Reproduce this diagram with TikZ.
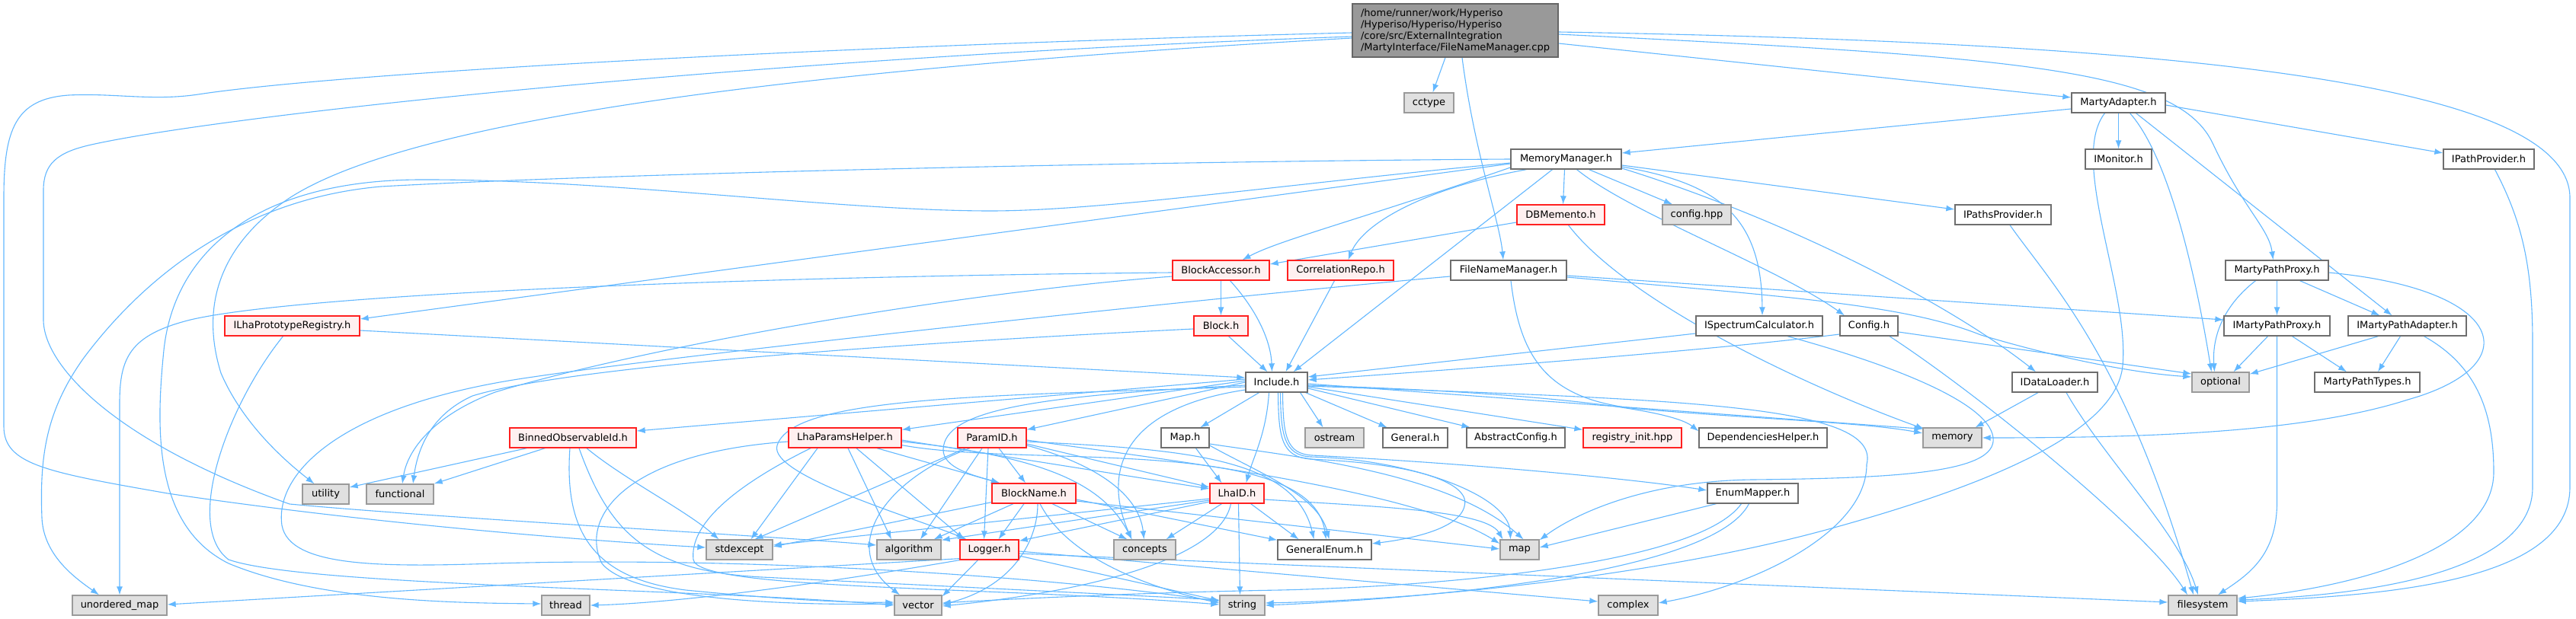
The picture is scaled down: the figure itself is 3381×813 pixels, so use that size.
\documentclass[tikz,border=0pt]{standalone}
\usepackage{fontspec}
\newfontfamily\dgfam{DejaVu Sans}
\usetikzlibrary{arrows.meta,calc}
\definecolor{edgec}{HTML}{63B8FF}
\definecolor{cwb}{HTML}{6E6E6E}
\definecolor{cgb}{HTML}{9A9A9A}
\definecolor{cgf}{HTML}{E0E0E0}
\definecolor{crb}{HTML}{FF2020}
\definecolor{crf}{HTML}{FFF0F0}
\definecolor{cmf}{HTML}{999999}
\definecolor{cmb}{HTML}{666666}
\pgfdeclarelayer{bg}
\pgfsetlayers{bg,main}
\tikzset{
 nd/.style={draw, line width=1.3pt, inner sep=0pt, minimum height=26pt, font=\dgfam\fontsize{13}{15}\selectfont, text=black},
 wn/.style={nd, draw=cwb, fill=white},
 gn/.style={nd, draw=cgb, fill=cgf},
 rn/.style={nd, draw=crb, fill=crf},
 e/.style={draw=edgec, line width=1.1pt, -{Latex[length=11pt,width=8pt]}}
}
\begin{document}
\begin{tikzpicture}[x=1pt,y=-1pt]
\useasboundingbox (0,0) rectangle (3381,813);
% ---------- nodes ----------
\node[nd, draw=cmb, fill=cmf, minimum width=270pt, minimum height=70pt, align=left] (src) at (1910,40) {/home/runner/work/Hyperiso\\/Hyperiso/Hyperiso/Hyperiso\\/core/src/ExternalIntegration\\/MartyInterface/FileNameManager.cpp};
\node[gn, minimum width=65pt] (cctype) at (1875.5,135) {cctype};
\node[wn, minimum width=123pt] (MA) at (2780.5,135) {MartyAdapter.h};
\node[wn, minimum width=145pt] (MM) at (2055.5,209) {MemoryManager.h};
\node[wn, minimum width=87pt] (IMon) at (2780.5,209) {IMonitor.h};
\node[wn, minimum width=119pt] (IPP) at (3266.5,209) {IPathProvider.h};
\node[rn, minimum width=115pt] (DBM) at (2048.5,282) {DBMemento.h};
\node[gn, minimum width=90pt] (cfg) at (2227,282) {config.hpp};
\node[wn, minimum width=126pt] (IPsP) at (2629,282) {IPathsProvider.h};
\node[rn, minimum width=127pt] (BA) at (1602.5,355) {BlockAccessor.h};
\node[rn, minimum width=139pt] (CR) at (1759.5,355) {CorrelationRepo.h};
\node[wn, minimum width=152pt] (FNM) at (1980,355) {FileNameManager.h};
\node[wn, minimum width=135pt] (MPP) at (2988.5,355) {MartyPathProxy.h};
\node[rn, minimum width=177pt] (ILPR) at (383.5,428) {ILhaPrototypeRegistry.h};
\node[rn, minimum width=71pt] (Blk) at (1602.5,428) {Block.h};
\node[wn, minimum width=166pt] (ISC) at (2309,428) {ISpectrumCalculator.h};
\node[wn, minimum width=76pt] (Cfg) at (2453,428) {Config.h};
\node[wn, minimum width=139pt] (IMPP) at (2988.5,428) {IMartyPathProxy.h};
\node[wn, minimum width=155pt] (IMPA) at (3159.5,428) {IMartyPathAdapter.h};
\node[wn, minimum width=81pt] (Inc) at (1675.5,502) {Include.h};
\node[wn, minimum width=112pt] (IDL) at (2697,502) {IDataLoader.h};
\node[gn, minimum width=75pt] (opt) at (2914.5,502) {optional};
\node[wn, minimum width=138pt] (MPT) at (3107,502) {MartyPathTypes.h};
\node[rn, minimum width=166pt] (BOI) at (752,575) {BinnedObservableId.h};
\node[rn, minimum width=148pt] (LPH) at (1109,575) {LhaParamsHelper.h};
\node[rn, minimum width=90pt] (PID) at (1302,575) {ParamID.h};
\node[wn, minimum width=63pt] (MapH) at (1555.5,575) {Map.h};
\node[gn, minimum width=77pt] (ostr) at (1751.5,575) {ostream};
\node[wn, minimum width=85pt] (Gen) at (1857.5,575) {General.h};
\node[wn, minimum width=129pt] (AbsC) at (1989.5,575) {AbstractConfig.h};
\node[rn, minimum width=129pt] (reg) at (2142.5,575) {registry\_init.hpp};
\node[wn, minimum width=168pt] (Dep) at (2314,575) {DependenciesHelper.h};
\node[gn, minimum width=77pt] (mem) at (2562.5,575) {memory};
\node[gn, minimum width=61pt] (util) at (427.5,649) {utility};
\node[gn, minimum width=88pt] (func) at (525,649) {functional};
\node[rn, minimum width=110pt] (BN) at (1357,648) {BlockName.h};
\node[rn, minimum width=71pt] (LID) at (1623.5,648) {LhaID.h};
\node[wn, minimum width=119pt] (EM) at (2300.5,648) {EnumMapper.h};
\node[gn, minimum width=87pt] (stde) at (970.5,722) {stdexcept};
\node[gn, minimum width=84pt] (alg) at (1193,722) {algorithm};
\node[rn, minimum width=77pt] (Log) at (1298.5,722) {Logger.h};
\node[gn, minimum width=81pt] (conc) at (1502.5,722) {concepts};
\node[wn, minimum width=123pt] (GE) at (1738.5,722) {GeneralEnum.h};
\node[gn, minimum width=51pt] (mapn) at (1994.5,722) {map};
\node[gn, minimum width=124pt] (um) at (157,795) {unordered\_map};
\node[gn, minimum width=63pt] (thr) at (742.5,795) {thread};
\node[gn, minimum width=62pt] (vec) at (1205,795) {vector};
\node[gn, minimum width=59pt] (str) at (1630.5,795) {string};
\node[gn, minimum width=78pt] (cplx) at (2137,795) {complex};
\node[gn, minimum width=90pt] (fs) at (2891,795) {filesystem};
% ---------- edges ----------
\begin{pgfonlayer}{bg}
\fill[white] (0,0) rectangle (3381,813);
% main file
\draw[e] ($(src.south)+(-13,0)$) -- ($(cctype.north)+(5,0)$);
\draw[e] ($(src.south)+(9,0)$) .. controls (1935,200) and (1968,290) .. ($(FNM.north)+(-7,0)$);
\draw[e] ($(src.east)+(0,17)$) -- ($(MA.west)+(0,-7)$);
\draw[e] ($(src.east)+(0,5)$) .. controls (2650,75) and (2860,90) .. (2905,190) .. controls (2945,275) and (2978,300) .. ($(MPP.north)+(-5,0)$);
\draw[e] ($(src.east)+(0,2)$) .. controls (2800,55) and (3373,100) .. (3373,260) -- (3373,640) .. controls (3373,760) and (3150,782) .. ($(fs.east)+(0,-5)$);
\draw[e] ($(src.west)+(0,3)$) .. controls (1100,60) and (450,95) .. (260,124) .. controls (200,133) and (150,122) .. (90,125) .. controls (20,130) and (5,170) .. (5,260) -- (5,560) .. controls (5,610) and (60,620) .. (220,648) .. controls (500,690) and (800,712) .. ($(stde.west)+(0,-3)$);
\draw[e] ($(src.west)+(0,8)$) .. controls (1000,75) and (300,150) .. (120,190) .. controls (75,200) and (57,215) .. (57,250) -- (57,420) .. controls (57,480) and (150,580) .. (380,662) .. controls (600,682) and (1000,703) .. ($(alg.west)+(0,-6)$);
\draw[e] ($(src.west)+(0,10)$) .. controls (1100,88) and (550,150) .. (380,260) .. controls (290,320) and (262,400) .. (290,490) .. controls (320,560) and (380,610) .. ($(util.north)+(-15,0)$);
% MartyAdapter
\draw[e] ($(MA.west)+(0,8)$) -- ($(MM.east)+(0,-8)$);
\draw[e] (MA.south) -- (IMon.north);
\draw[e] ($(MA.east)+(0,3)$) -- ($(IPP.west)+(0,-8)$);
\draw[e] ($(MA.south)+(15,0)$) .. controls (2850,210) and (2885,380) .. ($(opt.north)+(-12,0)$);
\draw[e] ($(MA.south)+(23,0)$) -- ($(IMPA.north)+(-20,0)$);
\draw[e] ($(MA.south)+(-18,0)$) .. controls (2715,210) and (2795,380) .. (2786,480) .. controls (2778,570) and (2600,640) .. (2400,695) .. controls (2200,750) and (1900,787) .. ($(str.east)+(0,-3)$);
% MemoryManager
\draw[e] ($(MM.south)+(-18,0)$) -- ($(Inc.north)+(22,0)$);
\draw[e] ($(MM.south)+(-52,0)$) .. controls (1880,245) and (1790,290) .. ($(CR.north)+(10,0)$);
\draw[e] ($(MM.south)+(-2,0)$) -- ($(DBM.north)+(3,0)$);
\draw[e] ($(MM.south)+(30,0)$) -- ($(cfg.north)+(-32,0)$);
\draw[e] ($(MM.east)+(0,8)$) -- ($(IPsP.west)+(0,-7)$);
\draw[e] ($(MM.east)+(0,10)$) .. controls (2250,240) and (2312,280) .. ($(ISC.north)+(4,0)$);
\draw[e] ($(MM.south)+(14,0)$) .. controls (2140,280) and (2330,350) .. ($(Cfg.north)+(-32,0)$);
\draw[e] ($(MM.east)+(0,12)$) .. controls (2350,290) and (2560,400) .. ($(IDL.north)+(-25,0)$);
\draw[e] ($(MM.west)+(0,11)$) .. controls (1780,290) and (1680,315) .. ($(BA.north)+(28,0)$);
\draw[e] ($(MM.west)+(0,6)$) -- ($(ILPR.east)+(0,-9)$);
\draw[e] (MM.west) .. controls (1500,212) and (800,228) .. (500,245) .. controls (330,260) and (200,350) .. (110,470) .. controls (60,540) and (52,600) .. (55,680) .. controls (57,730) and (100,760) .. ($(um.north)+(-27,0)$);
\draw[e] ($(MM.west)+(0,5)$) .. controls (1700,240) and (1450,277) .. (1300,277) .. controls (1100,277) and (800,235) .. (550,236) .. controls (350,237) and (230,320) .. (215,460) .. controls (205,560) and (200,690) .. (300,740) .. controls (420,790) and (600,792) .. ($(thr.west)+(0,-2)$);
% DBMemento
\draw[e] ($(DBM.west)+(0,10)$) -- ($(BA.east)+(0,-8)$);
\draw[e] ($(DBM.south)+(10,0)$) .. controls (2130,390) and (2350,500) .. ($(mem.north west)+(2,2)$);
% FileNameManager
\draw[e] ($(FNM.south)+(3,0)$) .. controls (1995,470) and (2030,525) .. (2150,537) .. controls (2300,550) and (2450,555) .. ($(mem.west)+(0,-6)$);
\draw[e] ($(FNM.west)+(0,8)$) .. controls (1600,390) and (900,465) .. (700,495) .. controls (450,530) and (360,620) .. (370,690) .. controls (380,745) and (500,745) .. (650,740) .. controls (1000,730) and (1400,760) .. ($(str.west)+(0,-5)$);
\draw[e] ($(FNM.east)+(0,7)$) -- ($(IMPP.west)+(0,-8)$);
\draw[e] ($(FNM.east)+(0,9)$) .. controls (2350,390) and (2500,400) .. (2600,440) .. controls (2700,470) and (2800,490) .. ($(opt.west)+(0,-7)$);
% CorrelationRepo
\draw[e] ($(CR.south)+(-8,0)$) -- ($(Inc.north)+(12,0)$);
% BlockAccessor
\draw[e] (BA.south) -- (Blk.north);
\draw[e] ($(BA.south)+(12,0)$) .. controls (1652,410) and (1668,450) .. ($(Inc.north)+(-6,0)$);
\draw[e] ($(BA.west)+(0,3)$) .. controls (1000,363) and (400,385) .. (250,420) .. controls (170,440) and (157,470) .. (157,530) -- (um.north);
\draw[e] ($(BA.west)+(0,8)$) .. controls (1250,385) and (850,455) .. (650,515) .. controls (570,545) and (535,590) .. ($(func.north)+(3,0)$);
% Block
\draw[e] ($(Blk.south)+(10,0)$) -- ($(Inc.north)+(-12,0)$);
\draw[e] ($(Blk.west)+(0,4)$) .. controls (1200,450) and (750,480) .. (620,520) .. controls (565,545) and (548,590) .. ($(func.north)+(17,0)$);
% ILhaPrototypeRegistry
\draw[e] ($(ILPR.east)+(0,6)$) -- ($(Inc.west)+(0,-6)$);
\draw[e] ($(ILPR.south)+(-12,0)$) .. controls (300,530) and (240,690) .. (300,735) .. controls (400,770) and (900,772) .. (vec.west);
% ISpectrumCalculator, Config
\draw[e] ($(ISC.west)+(0,10)$) -- ($(Inc.east)+(0,-7)$);
\draw[e] ($(Cfg.west)+(0,11)$) .. controls (2230,462) and (1900,486) .. ($(Inc.east)+(0,-3)$);
\draw[e] ($(Cfg.east)+(0,8)$) -- ($(opt.west)+(0,-11)$);
\draw[e] ($(Cfg.south)+(27,0)$) .. controls (2600,520) and (2820,700) .. ($(fs.north)+(-20,0)$);
\draw[e] ($(ISC.south)+(37,0)$) .. controls (2450,470) and (2600,520) .. (2615,570) .. controls (2630,620) and (2500,628) .. (2300,630) .. controls (2150,632) and (2060,680) .. ($(mapn.north east)+(0,1)$);
% IPathsProvider, IDataLoader, IPathProvider
\draw[e] ($(IPsP.south)+(9,0)$) .. controls (2690,370) and (2790,470) .. ($(fs.north)+(-12,0)$);
\draw[e] ($(IDL.south)+(-22,0)$) -- ($(mem.north)+(30,0)$);
\draw[e] ($(IDL.south)+(15,0)$) .. controls (2760,600) and (2860,700) .. ($(fs.north)+(-6,0)$);
\draw[e] ($(IPP.south)+(8,0)$) .. controls (3310,290) and (3324,350) .. (3324,450) -- (3324,640) .. controls (3324,740) and (3150,780) .. ($(fs.east)+(0,-7)$);
% MartyPathProxy
\draw[e] (MPP.south) -- (IMPP.north);
\draw[e] ($(MPP.south)+(30,0)$) -- ($(IMPA.north)+(-36,0)$);
\draw[e] ($(MPP.south)+(-28,0)$) .. controls (2920,400) and (2903,440) .. ($(opt.north)+(-8,0)$);
\draw[e] ($(MPP.east)+(0,3)$) .. controls (3290,380) and (3320,480) .. (3160,525) .. controls (3020,570) and (2800,575) .. (mem.east);
% IMartyPathProxy, IMartyPathAdapter
\draw[e] ($(IMPP.south)+(-12,0)$) -- ($(opt.north)+(17,0)$);
\draw[e] ($(IMPP.south)+(20,0)$) -- ($(MPT.north)+(-27,0)$);
\draw[e] (IMPP.south) -- (2988.5,660) .. controls (2988.5,730) and (2950,755) .. ($(fs.north)+(20,0)$);
\draw[e] ($(IMPA.south)+(-38,0)$) -- ($(opt.north east)+(0,3)$);
\draw[e] ($(IMPA.south)+(-9,0)$) -- ($(MPT.north)+(14,0)$);
\draw[e] ($(IMPA.south)+(22,0)$) .. controls (3250,480) and (3273,540) .. (3273,620) .. controls (3273,720) and (3100,770) .. ($(fs.east)+(0,-9)$);
% Include.h
\draw[e] ($(Inc.south east)+(-10,0)$) -- ($(ostr.north)+(-15,0)$);
\draw[e] ($(Inc.south east)+(-3,0)$) -- ($(Gen.north)+(-37,0)$);
\draw[e] ($(Inc.east)+(0,8)$) -- ($(AbsC.north)+(-60,0)$);
\draw[e] ($(Inc.east)+(0,6)$) -- ($(reg.north west)+(0,3)$);
\draw[e] ($(Inc.east)+(0,4)$) .. controls (2000,515) and (2190,535) .. ($(Dep.north west)+(0,5)$);
\draw[e] ($(Inc.east)+(0,2)$) -- ($(mem.north west)+(0,2)$);
\draw[e] ($(Inc.east)+(0,5)$) .. controls (2200,525) and (2470,530) .. (2450,610) .. controls (2450,700) and (2300,770) .. ($(cplx.east)+(0,-3)$);
\draw[e] ($(Inc.south)+(5,0)$) .. controls (1681,570) and (1685,598) .. (1720,600) .. controls (1850,603) and (1980,650) .. ($(mapn.north)+(-12,0)$);
\draw[e] ($(Inc.south)+(8,0)$) .. controls (1684,572) and (1688,596) .. (1722,598) .. controls (1950,610) and (2150,630) .. ($(EM.west)+(0,-4)$);
\draw[e] ($(Inc.south)+(2,0)$) .. controls (1678,575) and (1682,600) .. (1720,603) .. controls (1880,610) and (1930,640) .. (1922,665) .. controls (1915,695) and (1850,708) .. ($(GE.east)+(0,-8)$);
\draw[e] ($(Inc.south)+(-10,0)$) .. controls (1662,570) and (1645,600) .. ($(LID.north)+(12,0)$);
\draw[e] ($(Inc.west)+(0,10)$) .. controls (1450,540) and (1455,640) .. ($(conc.north)+(-17,0)$);
\draw[e] ($(Inc.west)+(0,-4)$) -- ($(BOI.east)+(0,-9)$);
\draw[e] ($(Inc.west)+(0,-2)$) -- ($(LPH.north east)+(0,3)$);
\draw[e] (Inc.west) -- ($(PID.north east)+(0,3)$);
\draw[e] ($(Inc.south)+(-23,0)$) -- ($(MapH.north)+(20,0)$);
\draw[e] ($(Inc.west)+(0,4)$) .. controls (1350,520) and (1240,540) .. (1238,590) .. controls (1237,615) and (1280,625) .. ($(BN.north)+(-45,0)$);
\draw[e] ($(Inc.west)+(0,6)$) .. controls (1300,520) and (1040,520) .. (1020,585) .. controls (1008,624) and (1200,680) .. ($(Log.north)+(-30,0)$);
% Map.h
\draw[e] ($(MapH.south)+(14,0)$) -- ($(LID.north)+(-20,0)$);
\draw[e] ($(MapH.east)+(0,8)$) .. controls (1700,600) and (1900,620) .. ($(mapn.north)+(5,0)$);
\draw[e] ($(MapH.east)+(0,10)$) .. controls (1650,620) and (1730,650) .. ($(GE.north)+(6,0)$);
% ParamID
\draw[e] ($(PID.south west)+(11,0)$) -- ($(stde.north)+(20,0)$);
\draw[e] ($(PID.south)+(-29,0)$) .. controls (1160,630) and (1100,720) .. ($(vec.north)+(-24,0)$);
\draw[e] ($(PID.south)+(-13,0)$) -- ($(alg.north)+(15,0)$);
\draw[e] ($(PID.south)+(-5,0)$) -- ($(Log.north)+(-7,0)$);
\draw[e] ($(PID.south)+(9,0)$) -- ($(BN.north)+(-11,0)$);
\draw[e] ($(PID.east)+(0,8)$) -- ($(LID.west)+(0,-8)$);
\draw[e] ($(PID.east)+(0,10)$) .. controls (1440,610) and (1495,650) .. ($(conc.north)+(-1,0)$);
\draw[e] ($(PID.east)+(0,5)$) .. controls (1550,590) and (1700,600) .. ($(GE.north)+(-14,0)$);
\draw[e] ($(PID.east)+(0,3)$) .. controls (1500,600) and (1850,640) .. ($(mapn.west)+(0,-8)$);
% LhaParamsHelper
\draw[e] ($(LPH.south)+(-36,0)$) -- ($(stde.north)+(15,0)$);
\draw[e] ($(LPH.south)+(4,0)$) -- ($(alg.north)+(-23,0)$);
\draw[e] ($(LPH.south)+(15,0)$) -- ($(Log.north)+(-33,0)$);
\draw[e] ($(LPH.south)+(42,0)$) -- ($(BN.north)+(-45,0)$);
\draw[e] ($(LPH.east)+(0,5)$) .. controls (1380,600) and (1450,640) .. ($(conc.north)+(-17,0)$);
\draw[e] ($(LPH.east)+(0,3)$) -- ($(LID.west)+(0,-6)$);
\draw[e] ($(LPH.south east)+(0,-4)$) .. controls (1350,615) and (1720,570) .. ($(GE.north)+(2,0)$);
\draw[e] ($(LPH.west)+(0,5)$) .. controls (820,595) and (760,680) .. (790,740) .. controls (830,790) and (1050,795) .. ($(vec.west)+(0,-2)$);
\draw[e] ($(LPH.south)+(-45,0)$) .. controls (960,640) and (905,690) .. (910,735) .. controls (915,775) and (1300,770) .. ($(str.west)+(0,-1)$);
% BinnedObservableId
\draw[e] ($(BOI.south west)+(23,0)$) -- ($(util.east)+(0,-9)$);
\draw[e] ($(BOI.south west)+(47,0)$) -- (func.north east);
\draw[e] ($(BOI.south)+(18,0)$) .. controls (820,630) and (900,670) .. ($(stde.north)+(-27,0)$);
\draw[e] ($(BOI.south)+(-4,0)$) .. controls (740,700) and (780,760) .. (900,775) .. controls (1000,785) and (1100,792) .. ($(vec.west)+(0,-4)$);
\draw[e] ($(BOI.south)+(8,0)$) .. controls (800,700) and (850,750) .. (1000,758) .. controls (1200,768) and (1450,780) .. ($(str.west)+(0,-7)$);
% BlockName
\draw[e] ($(BN.south west)+(0,-2)$) -- ($(stde.east)+(0,-4)$);
\draw[e] ($(BN.south)+(-27,0)$) -- ($(alg.north east)+(-10,0)$);
\draw[e] ($(BN.south)+(-13,0)$) -- ($(Log.north)+(12,0)$);
\draw[e] ($(BN.south)+(5,0)$) .. controls (1362,710) and (1330,770) .. ($(vec.east)+(0,-1)$);
\draw[e] ($(BN.south)+(24,0)$) -- ($(conc.north)+(-23,0)$);
\draw[e] ($(BN.south)+(8,0)$) .. controls (1400,730) and (1500,770) .. ($(str.west)+(0,-3)$);
\draw[e] ($(BN.east)+(0,8)$) -- ($(GE.north west)+(0,1)$);
\draw[e] ($(BN.east)+(0,10)$) -- ($(mapn.west)+(0,-1)$);
% LhaID
\draw[e] ($(LID.west)+(0,7)$) -- ($(stde.east)+(0,-6)$);
\draw[e] ($(LID.west)+(0,9)$) -- ($(alg.north east)+(0,1)$);
\draw[e] ($(LID.west)+(0,11)$) -- ($(Log.north east)+(0,2)$);
\draw[e] ($(LID.south)+(-20,0)$) -- ($(conc.north)+(28,0)$);
\draw[e] ($(LID.south)+(-8,0)$) .. controls (1600,740) and (1400,780) .. ($(vec.east)+(0,1)$);
\draw[e] ($(LID.south)+(2,0)$) -- ($(str.north)+(-3,0)$);
\draw[e] ($(LID.south east)+(-18,0)$) -- ($(GE.north)+(-34,0)$);
\draw[e] ($(LID.east)+(0,8)$) .. controls (1800,665) and (1950,670) .. ($(mapn.north)+(-22,0)$);
% Logger
\draw[e] ($(Log.south west)+(0,-2)$) -- ($(um.east)+(0,-1)$);
\draw[e] (Log.south west) .. controls (1000,780) and (850,793) .. (thr.east);
\draw[e] ($(Log.south)+(-15,0)$) -- ($(vec.north east)+(0,2)$);
\draw[e] ($(Log.east)+(0,8)$) -- ($(str.west)+(0,-6)$);
\draw[e] ($(Log.east)+(0,2)$) -- ($(cplx.west)+(0,-5)$);
\draw[e] ($(Log.east)+(0,5)$) -- ($(fs.west)+(0,-4)$);
% EnumMapper
\draw[e] ($(EM.south)+(-48,0)$) -- ($(mapn.east)+(0,-3)$);
\draw[e] ($(EM.south)+(-15,0)$) .. controls (2230,740) and (1900,770) .. (1680,775) .. controls (1500,778) and (1300,788) .. ($(vec.east)+(0,-3)$);
\draw[e] ($(EM.south)+(-5,0)$) .. controls (2250,750) and (1900,785) .. (str.east);
\end{pgfonlayer}
\end{tikzpicture}
\end{document}
